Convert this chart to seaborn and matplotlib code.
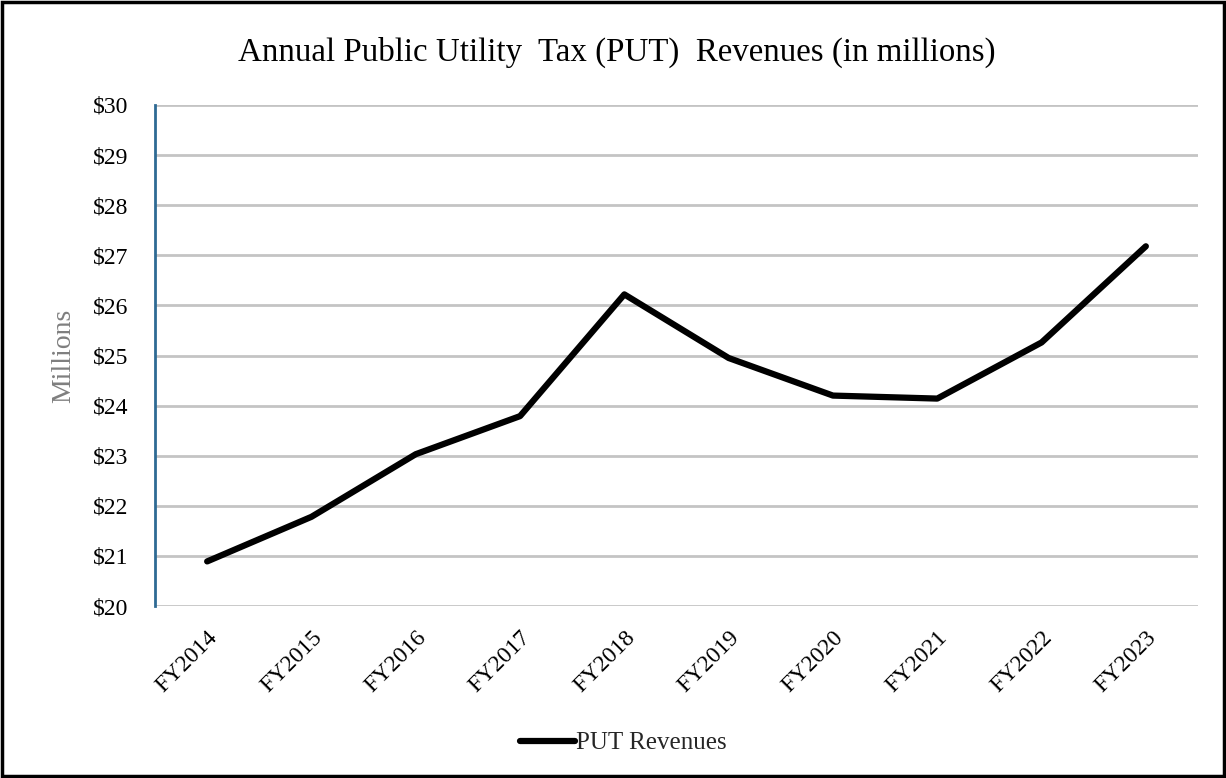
import matplotlib
matplotlib.use("Agg")
import matplotlib.pyplot as plt
import seaborn as sns
import pandas as pd
from matplotlib.patches import Rectangle

years = ["FY2014", "FY2015", "FY2016", "FY2017", "FY2018",
         "FY2019", "FY2020", "FY2021", "FY2022", "FY2023"]
revenues = [20.89, 21.78, 23.03, 23.79, 26.22, 24.95, 24.20, 24.14, 25.26, 27.18]
yticks = [20, 21, 22, 23, 24, 25, 26, 27, 28, 29, 30]
series_name = "PUT Revenues"

sns.set_theme(style="white")
plt.rcParams["font.family"] = ["Liberation Serif", "DejaVu Serif"]

df = pd.DataFrame({"Year": years, "Revenue": revenues, "Series": series_name})

fig = plt.figure(figsize=(12.26, 7.78), dpi=100)
ax = fig.add_axes([155/1226, 1 - 606/778, (1198-155)/1226, (606-105)/778])

sns.lineplot(data=df, x="Year", y="Revenue", hue="Series", palette=["black"],
             linewidth=4.5, ax=ax, sort=False, solid_capstyle="round")

ax.set_xlim(-0.5, len(years) - 0.5)
ax.set_ylim(20, 30)
ax.set_yticks(yticks)
ax.set_yticklabels([f"${v}" for v in yticks], fontsize=17, color="black")
ax.set_xticks(range(len(years)))
ax.set_xticklabels(years, rotation=45, ha="right", rotation_mode="anchor", fontsize=17, color="black")
ax.tick_params(axis="y", pad=19, length=0)
ax.tick_params(axis="x", pad=15, length=0)

ax.grid(axis="y", color="#c4c4c4", linewidth=2)
ax.set_axisbelow(True)
for s in ["top", "right", "bottom"]:
    ax.spines[s].set_visible(False)
ax.spines["left"].set_color("#2e6a94")
ax.spines["left"].set_linewidth(2)

ax.set_xlabel("")
ax.set_ylabel("Millions", fontsize=20, color="#7f7f7f", labelpad=12)

fig.text(617/1226, 1 - 52/778, "Annual Public Utility  Tax (PUT)  Revenues (in millions)",
         ha="center", va="center", fontsize=23.7, color="black")

leg = ax.legend(loc="center", bbox_to_anchor=(623/1226, 1 - 743/778),
                bbox_transform=fig.transFigure, frameon=False, fontsize=18,
                handlelength=2.2, handletextpad=0.05)
for line in leg.get_lines():
    line.set_linewidth(4.5)

fig.patches.append(Rectangle((0.002, 0.003), 0.996, 0.994, transform=fig.transFigure,
                             fill=False, edgecolor="black", linewidth=2.5))

fig.savefig("out.png", dpi=100, facecolor="white")
